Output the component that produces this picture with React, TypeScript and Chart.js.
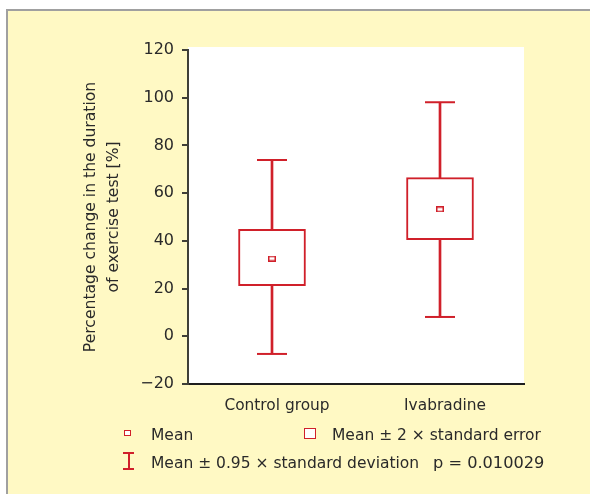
import React, { useEffect, useRef } from 'react';
import { Chart, registerables } from 'chart.js';

Chart.register(...registerables);

const categories = ['Control group', 'Ivabradine'];
const means = [32.6, 53.2];
const seLow = [21.2, 40.5];
const seHigh = [44.8, 66.5];
const sdLow = [-7.4, 8.1];
const sdHigh = [73.9, 98.1];
const yTicks = [-20, 0, 20, 40, 60, 80, 100, 120];
const yTitle = ['Percentage change in the duration', 'of exercise test [%]'];
const legendMean = 'Mean';
const legendSE = 'Mean \u00b1 2 \u00d7 standard error';
const legendSD = 'Mean \u00b1 0.95 \u00d7 standard deviation';
const pValue = 'p = 0.010029';

const RED = '#d0202a';
const AXIS = '#3f3f38';
const TEXT = '#2a2a2a';
const FAMILY = '"DejaVu Sans", sans-serif';

function meanMarker(): HTMLCanvasElement {
  const c = document.createElement('canvas');
  c.width = 8;
  c.height = 6;
  const g = c.getContext('2d')!;
  g.fillStyle = '#ffffff';
  g.fillRect(0, 0, 8, 6);
  g.strokeStyle = RED;
  g.lineWidth = 1.5;
  g.strokeRect(0.75, 0.75, 6.5, 4.5);
  return c;
}

const whiteArea = {
  id: 'whiteArea',
  beforeDraw(chart: any) {
    const { ctx, chartArea } = chart;
    ctx.save();
    ctx.fillStyle = '#ffffff';
    ctx.fillRect(chartArea.left, chartArea.top - 3, chartArea.right - chartArea.left, chartArea.bottom - chartArea.top + 3);
    ctx.restore();
  },
};

export default function App() {
  const ref = useRef<HTMLCanvasElement | null>(null);

  useEffect(() => {
    if (!ref.current) return;
    Chart.defaults.font.family = FAMILY;
    Chart.defaults.color = TEXT;
    const chart = new Chart(ref.current, {
      type: 'bar',
      data: {
        labels: categories,
        datasets: [
          {
            type: 'bar',
            data: sdLow.map((l, i) => [l, sdHigh[i]]) as any,
            backgroundColor: RED,
            borderWidth: 0,
            barThickness: 2,
            grouped: false,
            order: 3,
          } as any,
          {
            type: 'bar',
            data: seLow.map((l, i) => [l, seHigh[i]]) as any,
            backgroundColor: '#ffffff',
            borderColor: RED,
            borderWidth: 2,
            borderSkipped: false,
            barThickness: 67,
            grouped: false,
            order: 2,
          } as any,
          {
            type: 'line',
            data: sdHigh,
            showLine: false,
            pointStyle: 'line',
            pointRadius: 15,
            pointBorderWidth: 2,
            pointBorderColor: RED,
            borderColor: RED,
            order: 1,
          } as any,
          {
            type: 'line',
            data: sdLow,
            showLine: false,
            pointStyle: 'line',
            pointRadius: 15,
            pointBorderWidth: 2,
            pointBorderColor: RED,
            borderColor: RED,
            order: 1,
          } as any,
          {
            type: 'line',
            data: means,
            showLine: false,
            pointStyle: meanMarker(),
            pointRadius: 4,
            order: 0,
          } as any,
        ],
      },
      options: {
        responsive: false,
        animation: false,
        events: [],
        layout: { padding: { left: 78, top: 50, right: 66, bottom: 70 } },
        plugins: {
          legend: { display: false },
          tooltip: { enabled: false },
        },
        scales: {
          x: {
            type: 'category',
            offset: true,
            grid: { display: false, drawTicks: false },
            border: { display: true, color: '#1e1e1e', width: 2 },
            ticks: { padding: 13, labelOffset: 5, font: { size: 15.4 }, color: TEXT },
            afterFit: (s: any) => { s.height = 40; },
          },
          y: {
            min: -20,
            max: 120,
            grid: { drawOnChartArea: false, drawTicks: true, tickLength: 6, color: AXIS, lineWidth: 2 },
            border: { display: true, color: AXIS, width: 2 },
            ticks: {
              padding: 8,
              font: { size: 16 },
              color: TEXT,
              callback: (v: any) => String(v).replace('-', '\u2212'),
            },
            afterBuildTicks: (s: any) => { s.ticks = yTicks.map((v) => ({ value: v })); },
            afterFit: (s: any) => { s.width = 110; },
            title: {
              display: true,
              text: yTitle,
              font: { size: 15.6, lineHeight: 1.45 },
              color: TEXT,
              padding: { top: 2, bottom: 0 },
            },
          },
        },
      },
      plugins: [whiteArea],
    } as any);
    return () => chart.destroy();
  }, []);

  const txt: React.CSSProperties = {
    position: 'absolute',
    fontFamily: FAMILY,
    fontSize: 15.5,
    lineHeight: '20px',
    color: TEXT,
    whiteSpace: 'nowrap',
  };

  return (
    <div style={{ position: 'absolute', left: 0, top: 0, width: 590, height: 494, overflow: 'hidden', background: '#fff9c4' }}>
      <div
        style={{
          position: 'absolute',
          left: 6,
          top: 9,
          width: 600,
          height: 500,
          background: '#fff9c4',
          borderLeft: '2px solid #a0a0a0',
          borderTop: '2px solid #a0a0a0',
        }}
      />
      <div style={{ position: 'absolute', left: 0, top: 0, width: 6, height: 494, background: '#ffffff' }} />
      <div style={{ position: 'absolute', left: 0, top: 0, width: 590, height: 9, background: '#ffffff' }} />
      <canvas ref={ref} width={590} height={494} style={{ position: 'absolute', left: 0, top: 0, width: 590, height: 494 }} />
      {/* legend */}
      <div style={{ position: 'absolute', left: 124, top: 430, width: 7, height: 6, boxSizing: 'border-box', border: `1.5px solid ${RED}`, background: '#fff' }} />
      <div style={{ ...txt, left: 151, top: 424.5 }}>{legendMean}</div>
      <div style={{ position: 'absolute', left: 304, top: 428, width: 12, height: 11, boxSizing: 'border-box', border: `1.5px solid ${RED}`, background: '#fff' }} />
      <div style={{ ...txt, left: 332, top: 424.5 }}>{legendSE}</div>
      <div style={{ position: 'absolute', left: 123, top: 452, width: 11, height: 2, background: RED }} />
      <div style={{ position: 'absolute', left: 127.5, top: 452, width: 2, height: 18, background: RED }} />
      <div style={{ position: 'absolute', left: 123, top: 468, width: 11, height: 2, background: RED }} />
      <div style={{ ...txt, left: 151, top: 452.5 }}>{legendSD}</div>
      <div style={{ ...txt, left: 433, top: 452.5, fontSize: 16.2 }}>{pValue}</div>
    </div>
  );
}
